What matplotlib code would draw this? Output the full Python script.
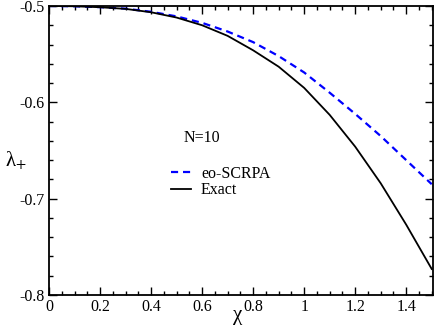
import matplotlib
matplotlib.use('Agg')
import matplotlib.pyplot as plt
from matplotlib.ticker import MultipleLocator, FuncFormatter

# data
chi = [0.0, 0.1, 0.2, 0.3, 0.4, 0.5, 0.6, 0.7, 0.8, 0.9, 1.0, 1.1, 1.2, 1.3, 1.4, 1.5]
scrpa = [-0.5000, -0.5003, -0.5012, -0.5028, -0.5060, -0.5108, -0.5175, -0.5265,
         -0.5375, -0.5520, -0.5690, -0.5900, -0.6120, -0.6350, -0.6600, -0.6850]
exact = [-0.5000, -0.5003, -0.5013, -0.5030, -0.5065, -0.5120, -0.5200, -0.5310,
         -0.5460, -0.5630, -0.5850, -0.6130, -0.6460, -0.6840, -0.7270, -0.7730]

plt.rcParams['font.family'] = 'Liberation Serif'
plt.rcParams['mathtext.fontset'] = 'stix'
plt.rcParams['axes.unicode_minus'] = False

fig = plt.figure(figsize=(4.36, 3.27), dpi=100)
ax = fig.add_axes([0.1124, 0.0979, 0.8807, 0.8838])

ax.plot(chi, scrpa, color='#0000ff', ls=(0, (3.2, 2.2)), lw=1.6, label='eo-SCRPA')
ax.plot(chi, exact, color='black', lw=1.3, label='Exact')

ax.set_xlim(0, 1.505)
ax.set_ylim(-0.8, -0.5)
ax.xaxis.set_major_locator(MultipleLocator(0.2))
ax.xaxis.set_minor_locator(MultipleLocator(0.05))
ax.yaxis.set_major_locator(MultipleLocator(0.1))
ax.yaxis.set_minor_locator(MultipleLocator(0.02))
ax.xaxis.set_major_formatter(FuncFormatter(lambda v, p: '%g' % round(v, 2)))
ax.yaxis.set_major_formatter(FuncFormatter(lambda v, p: '%g' % round(v, 2)))
ax.tick_params(which='both', direction='in', top=True, right=True, labelsize=11.5, width=1.0)
ax.tick_params(which='major', length=6, pad=3)
ax.tick_params(which='minor', length=3)
for s in ax.spines.values():
    s.set_linewidth(1.3)

fig.text(0.545, 0.005, 'χ', fontsize=15, ha='center', va='bottom')
fig.text(0.012, 0.51, r'λ$_{+}$', fontsize=15, ha='left', va='center')

ax.text(0.60, -0.637, 'N=10', fontsize=11.5, ha='center', va='center')
ax.legend(loc='upper left', bbox_to_anchor=(0.30, 0.47), frameon=False, fontsize=11.5,
          handlelength=1.3, handletextpad=0.6, labelspacing=0.05, borderaxespad=0)

fig.savefig('out.png', dpi=100)
